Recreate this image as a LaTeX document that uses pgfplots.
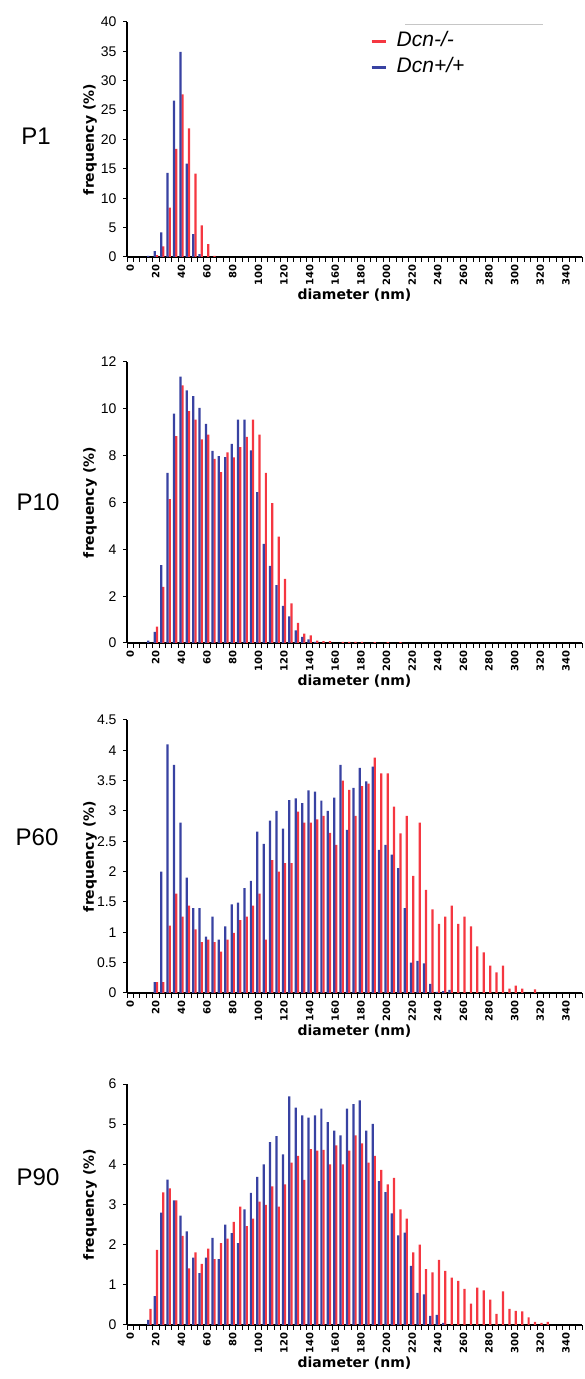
\documentclass[border=0pt]{standalone}
\usepackage{fontspec}
\setmainfont{Liberation Sans}
\newfontfamily\labelfont{DejaVu Sans}
\usepackage{pgfplots}
\pgfplotsset{compat=1.18}

\definecolor{dcnred}{RGB}{245,55,65}
\definecolor{dcnblue}{RGB}{56,66,162}

\pgfplotsset{
  panel/.style={
    scale only axis, width=455pt,
    xmin=-2.5, xmax=352.5, ymin=0,
    axis x line*=bottom, axis y line*=left,
    axis line style={-, line width=1.3pt},
    ybar, bar width=1.75,
    xtick={0,20,...,340},
    minor xtick={-2.5,2.5,...,352.5},
    major x tick style={draw=none},
    minor x tick style={line width=1pt, black},
    y tick style={line width=1pt, black},
    tick align=outside,
    minor tick length=5pt, major tick length=4pt,
    xticklabel style={rotate=90, anchor=east,
      font=\labelfont\bfseries\fontsize{10}{10}\selectfont},
    yticklabel style={font=\fontsize{14}{14}\selectfont, xshift=-3pt},
    /pgf/number format/assume math mode=true,
    xlabel={diameter (nm)}, ylabel={frequency (\%)},
    label style={font=\labelfont\bfseries\fontsize{14}{14}\selectfont},
    xlabel style={yshift=3pt},
    ylabel style={at={(axis description cs:0,0.5)}, anchor=center, yshift=37pt},
  },
  redbar/.style={fill=dcnred, draw=none, bar shift=0.85,
    legend image code/.code={\draw[dcnred, line width=3pt] (0pt,0pt) -- (14pt,0pt); \path (25pt,0pt);}},
  bluebar/.style={fill=dcnblue, draw=none, bar shift=-0.85,
    legend image code/.code={\draw[dcnblue, line width=3pt] (0pt,0pt) -- (14pt,0pt); \path (25pt,0pt);}},
}

\begin{document}
\begin{tikzpicture}[x=1pt, y=1pt]
\useasboundingbox (0,0) rectangle (585,1379);

% P1
\begin{axis}[panel, at={(127pt,1122pt)}, anchor=south west, height=235pt,
  ymax=40, ytick={0,5,...,40},
  legend style={at={(axis description cs:0.534,0.96)}, anchor=north west,
    draw=none, fill=none, font=\itshape\fontsize{21}{21}\selectfont,
    nodes={inner sep=0pt, text height=15pt, text depth=5pt},
    row sep=6pt, inner sep=0pt},
  legend cell align=left]
\addplot[redbar] coordinates {
  (20,0.3) (25,1.8) (30,8.4) (35,18.4) (40,27.7) (45,21.9) (50,14.2)
  (55,5.4) (60,2.2) (65,0.2)
};
\addplot[bluebar] coordinates {
  (15,0.2) (20,1.0) (25,4.2) (30,14.3) (35,26.6) (40,34.9) (45,15.9)
  (50,3.9) (55,0.5)
};
\legend{Dcn-/-, Dcn+/+}
\end{axis}

% P10
\begin{axis}[panel, at={(127pt,736pt)}, anchor=south west, height=281pt,
  ymax=12, ytick={0,2,...,12}]
\addplot[redbar] coordinates {
  (20,0.7) (25,2.4) (30,6.14) (35,8.83) (40,11.0) (45,9.9) (50,9.54)
  (55,8.7) (60,8.9) (65,7.86) (70,7.3) (75,8.14) (80,7.93) (85,8.36)
  (90,8.8) (95,9.54) (100,8.9) (105,7.26) (110,5.97) (115,4.54)
  (120,2.74) (125,1.69) (130,0.86) (135,0.4) (140,0.33) (145,0.1)
  (150,0.08) (155,0.08) (165,0.05) (170,0.05) (175,0.05) (180,0.05)
  (190,0.04) (200,0.04) (210,0.04)
};
\addplot[bluebar] coordinates {
  (15,0.1) (20,0.47) (25,3.33) (30,7.26) (35,9.8) (40,11.37) (45,10.79)
  (50,10.54) (55,10.04) (60,9.36) (65,8.2) (70,7.98) (75,7.94) (80,8.5)
  (85,9.54) (90,9.54) (95,8.23) (100,6.44) (105,4.23) (110,3.29)
  (115,2.47) (120,1.59) (125,1.14) (130,0.54) (135,0.26) (140,0.15)
  (145,0.05)
};
\end{axis}

% P60
\begin{axis}[panel, at={(127pt,386pt)}, anchor=south west, height=273pt,
  ymax=4.5, ytick={0,0.5,...,4.5}]
\addplot[redbar] coordinates {
  (20,0.18) (25,0.18) (30,1.11) (35,1.64) (40,1.26) (45,1.44) (50,1.05)
  (55,0.84) (60,0.88) (65,0.84) (70,0.68) (75,0.88) (80,0.99) (85,1.2)
  (90,1.26) (95,1.44) (100,1.64) (105,0.88) (110,2.19) (115,2.0)
  (120,2.14) (125,2.14) (130,2.99) (135,2.81) (140,2.81) (145,2.86)
  (150,2.92) (155,2.64) (160,2.44) (165,3.5) (170,3.35) (175,2.92)
  (180,3.41) (185,3.45) (190,3.88) (195,3.62) (200,3.62) (205,3.07)
  (210,2.63) (215,2.92) (220,1.93) (225,2.81) (230,1.7) (235,1.38)
  (240,1.14) (245,1.26) (250,1.44) (255,1.14) (260,1.26) (265,1.1)
  (270,0.77) (275,0.67) (280,0.45) (285,0.34) (290,0.45) (295,0.07)
  (300,0.12) (305,0.07) (315,0.06)
};
\addplot[bluebar] coordinates {
  (20,0.18) (25,2.0) (30,4.1) (35,3.76) (40,2.81) (45,1.9) (50,1.4)
  (55,1.4) (60,0.93) (65,1.26) (70,0.88) (75,1.1) (80,1.46) (85,1.49)
  (90,1.73) (95,1.85) (100,2.66) (105,2.46) (110,2.84) (115,3.0)
  (120,2.71) (125,3.18) (130,3.21) (135,3.13) (140,3.34) (145,3.32)
  (150,3.17) (155,3.0) (160,3.22) (165,3.76) (170,2.69) (175,3.38)
  (180,3.71) (185,3.49) (190,3.73) (195,2.36) (200,2.44) (205,2.28)
  (210,2.06) (215,1.4) (220,0.5) (225,0.53) (230,0.49) (235,0.15)
  (240,0.02) (245,0.03) (250,0.05)
};
\end{axis}

% P90
\begin{axis}[panel, at={(127pt,54pt)}, anchor=south west, height=241pt,
  ymax=6, ytick={0,1,...,6}]
\addplot[redbar] coordinates {
  (15,0.4) (20,1.87) (25,3.3) (30,3.4) (35,3.1) (40,2.22) (45,1.41)
  (50,1.81) (55,1.52) (60,1.9) (65,1.64) (70,2.04) (75,2.15) (80,2.57)
  (85,2.95) (90,2.46) (95,2.65) (100,3.07) (105,2.99) (110,3.45)
  (115,2.95) (120,3.5) (125,4.04) (130,4.21) (135,3.61) (140,4.38)
  (145,4.34) (150,4.36) (155,4.0) (160,4.47) (165,4.0) (170,4.34)
  (175,4.72) (180,4.52) (185,4.04) (190,4.21) (195,3.86) (200,3.5)
  (205,3.66) (210,2.88) (215,2.65) (220,1.81) (225,2.0) (230,1.39)
  (235,1.31) (240,1.62) (245,1.35) (250,1.18) (255,1.1) (260,0.9)
  (265,0.53) (270,0.93) (275,0.86) (280,0.63) (285,0.28) (290,0.84)
  (295,0.4) (300,0.35) (305,0.34) (310,0.19) (315,0.08) (320,0.05)
  (325,0.08)
};
\addplot[bluebar] coordinates {
  (15,0.13) (20,0.72) (25,2.8) (30,3.62) (35,3.1) (40,2.72) (45,2.33)
  (50,1.68) (55,1.29) (60,1.68) (65,2.17) (70,1.64) (75,2.5) (80,2.29)
  (85,2.04) (90,2.88) (95,3.29) (100,3.69) (105,4.0) (110,4.55)
  (115,4.7) (120,4.25) (125,5.69) (130,5.41) (135,5.22) (140,5.16)
  (145,5.22) (150,5.39) (155,5.05) (160,4.84) (165,4.72) (170,5.39)
  (175,5.5) (180,5.59) (185,4.84) (190,5.01) (195,3.58) (200,3.31)
  (205,2.78) (210,2.23) (215,2.3) (220,1.47) (225,0.8) (230,0.76)
  (235,0.23) (240,0.25) (245,0.05)
};
\end{axis}

\draw[gray!45, line width=1pt] (405,1354) -- (543,1354);
\begin{scope}[every node/.style={font=\fontsize{24}{24}\selectfont}]
\node at (36,1243) {P1};
\node at (38,877) {P10};
\node at (37,542) {P60};
\node at (38,202) {P90};
\end{scope}
\end{tikzpicture}
\end{document}
